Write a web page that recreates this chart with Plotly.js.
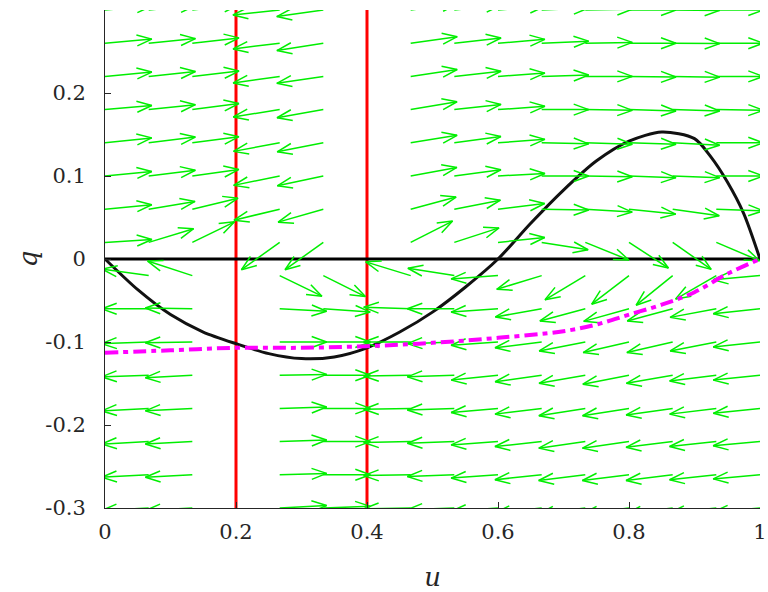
<!DOCTYPE html>
<html>
<head>
<meta charset="utf-8">
<script src="https://cdn.plot.ly/plotly-3.0.1.min.js"></script>
<style>html,body{margin:0;padding:0;background:#fff;}#chart{width:768px;height:592px;}</style>
</head>
<body>
<div id="chart"></div>
<script>
// ---- grid of the direction field ----
const gridU = [0, 0.0667, 0.1333, 0.2, 0.2667, 0.3333, 0.4, 0.4667, 0.5333, 0.6, 0.6667, 0.7333, 0.8, 0.8667, 0.9333, 1];
const gridQ = [0.30, 0.26, 0.22, 0.18, 0.14, 0.10, 0.06, 0.02, -0.02, -0.06, -0.10, -0.14, -0.18, -0.22, -0.26, -0.30];

// arrow directions (degrees), one array per row of gridQ; null = no arrow
const dirQ030 = [5, 5.5, 6.5, null, 186, 188, null, 7.5, 6, 4.5, 2.5, 1, 0, -0.5, 0, 0];
const dirQ026 = [5, 5.6, 6.5, null, 187, 189, null, 8, 6.3, 4.7, 2.5, 1, 0, -0.5, 0, 0];
const dirQ022 = [5.3, 6, 6.5, null, 188, 188.5, null, 8.4, 6.3, 4, 1.7, 0, -0.8, -0.9, 0, 0];
const dirQ018 = [5, 6, 7.5, null, 189, 190, null, 9.6, 6.3, 4, 0, -0.9, -1.7, -1.7, -0.9, 0];
const dirQ014 = [6, 7, 7.5, null, 190.5, 191, null, 9.2, 7.6, 4.2, -1.3, -1.8, -1.7, -3, 0, 0];
const dirQ010 = [5.5, 7, 8, null, 191.5, 192, null, 10.5, 7.6, 3, 0, -1, -2, -2, 0, 0];
const dirQ006 = [5.5, 9.5, 13.5, null, 193.5, 196, null, 15, 11, 7, -1, -3.5, -6, -8, -2, 0];
const dirQ002 = [3.5, 17, 26, null, 215.5, 215.5, null, 27, 18, 6, -9, -22, -33, -35, -23, 0];
const dirQm02 = [175, 172, 162, null, 334, 333.5, null, 163, 171, 184, 197, 211, 217.5, 219, 210, 185];
const dirQm06 = [180, 180, 179, null, 357, 356, null, 178, 180, 184, 190, 195, 195.5, 195, 190.5, 186];
const dirQm10 = [181, 182, 181, null, 0, 0, null, 180, 182, 184, 187, 191, 193, 193, 191, 186];
const dirQm14 = [182, 182, 183, null, 1, 0, null, 181, 182, 186, 188, 190, 191, 190, 187, 186];
const dirQm18 = [183, 183, 183, null, 1.7, 0, null, 181, 182, 185, 187, 189, 189, 188, 187, 186];
const dirQm22 = [183, 183, 183, null, 2, 0, null, 181, 182, 184, 186, 188, 188, 187, 186, 185];
const dirQm26 = [183, 183, 183, null, 1.7, 0, null, 181, 182, 184, 186, 187, 187, 187, 186, 185];
const dirQm30 = [183, 183, 183, null, 3, 2, null, 181, 182, 184, 186, 187, 187, 187, 186, 185];
const dirRows = [dirQ030, dirQ026, dirQ022, dirQ018, dirQ014, dirQ010, dirQ006, dirQ002,
                 dirQm02, dirQm06, dirQm10, dirQm14, dirQm18, dirQm22, dirQm26, dirQm30];

// ---- curves ----
const curveU = [0, 0.05, 0.1, 0.15, 0.2, 0.25, 0.3, 0.35, 0.4, 0.45, 0.5, 0.55, 0.6, 0.65, 0.7, 0.75, 0.8, 0.85, 0.9, 0.925, 0.95, 0.975, 1.0];
const curveQ = [0, -0.037, -0.067, -0.088, -0.102, -0.114, -0.120, -0.118, -0.107, -0.088, -0.064, -0.034, 0.0, 0.043, 0.083, 0.118, 0.142, 0.153, 0.145, 0.123, 0.093, 0.055, 0];
const orbitU = [0, 0.1, 0.2, 0.3, 0.4, 0.5, 0.6, 0.7, 0.75, 0.8, 0.85, 0.9, 0.95, 1.0];
const orbitQ = [-0.113, -0.110, -0.107, -0.107, -0.105, -0.101, -0.095, -0.087, -0.079, -0.067, -0.055, -0.040, -0.018, 0];
const singularU = [0.2, 0.4];
const axisU = [0, 1];
const axisQ = [0, 0];
const rangeQ = [-0.3, 0.3];

const xTicks = [0, 0.2, 0.4, 0.6, 0.8, 1];
const xTickText = ['0', '0.2', '0.4', '0.6', '0.8', '1'];
const yTicks = [-0.3, -0.2, -0.1, 0, 0.1, 0.2];
const yTickText = ['-0.3', '-0.2', '-0.1', '0', '0.1', '0.2'];

// ---- layout geometry ----
const W = 768, H = 592;
const M = {l: 105, r: 8, t: 10, b: 84};
const plotW = W - M.l - M.r, plotH = H - M.t - M.b;
const pxU = plotW / 1.0, pxQ = plotH / 0.6;

// arrows as one line trace (MATLAB-style open heads)
const arrowLen = 47, headBack = 15, headHalf = 5.5;
const ax = [], ay = [];
dirRows.forEach((row, r) => {
  row.forEach((deg, c) => {
    if (deg === null) return;
    const a = deg * Math.PI / 180;
    const cx = Math.cos(a), cy = Math.sin(a);
    const u0 = gridU[c], q0 = gridQ[r];
    const u1 = u0 + arrowLen * cx / pxU, q1 = q0 + arrowLen * cy / pxQ;
    ax.push(u0, u1, null); ay.push(q0, q1, null);
    const bx = -headBack * cx, by = -headBack * cy;
    const nx = -cy * headHalf, ny = cx * headHalf;
    ax.push(u1 + (bx + nx) / pxU, u1, u1 + (bx - nx) / pxU, null);
    ay.push(q1 + (by + ny) / pxQ, q1, q1 + (by - ny) / pxQ, null);
  });
});

const traces = [];
singularU.forEach(u => traces.push({
  x: [u, u], y: rangeQ, mode: 'lines', line: {color: '#ff0000', width: 3}, hoverinfo: 'skip', showlegend: false
}));
traces.push({x: axisU, y: axisQ, mode: 'lines', line: {color: '#000000', width: 3}, showlegend: false});
traces.push({x: curveU, y: curveQ, mode: 'lines', line: {color: '#111111', width: 3, shape: 'spline', smoothing: 0.8}, showlegend: false});
traces.push({x: ax, y: ay, mode: 'lines', line: {color: '#00ee00', width: 1.5}, connectgaps: false, showlegend: false});
traces.push({x: orbitU, y: orbitQ, mode: 'lines', line: {color: '#ff00ff', width: 4, dash: '13px,5px,5px,5px', shape: 'spline'}, showlegend: false});

const fontFam = 'DejaVu Serif';
const layout = {
  width: W, height: H,
  margin: M,
  paper_bgcolor: '#ffffff', plot_bgcolor: '#ffffff',
  showlegend: false,
  font: {family: fontFam},
  xaxis: {
    range: [0, 1], tickvals: xTicks, ticktext: xTickText,
    ticks: 'inside', ticklen: 6, tickcolor: '#262626', tickwidth: 1,
    showline: true, linecolor: '#262626', linewidth: 1,
    showgrid: false, zeroline: false, ticklabelstandoff: 5, ticklabeloverflow: 'allow',
    tickfont: {family: fontFam, size: 21, color: '#262626'},
    title: {text: '<i>u</i>', font: {family: fontFam, size: 26, color: '#262626'}, standoff: 24}
  },
  yaxis: {
    range: [-0.3, 0.3], tickvals: yTicks, ticktext: yTickText,
    ticks: 'inside', ticklen: 6, tickcolor: '#262626', tickwidth: 1,
    showline: true, linecolor: '#262626', linewidth: 1,
    showgrid: false, zeroline: false, ticklabelstandoff: 14,
    tickfont: {family: fontFam, size: 21, color: '#262626'},
    title: {text: '<i>q</i>', font: {family: fontFam, size: 26, color: '#262626'}, standoff: 0}
  }
};
Plotly.newPlot('chart', traces, layout, {staticPlot: true, displayModeBar: false});
</script>
</body>
</html>
